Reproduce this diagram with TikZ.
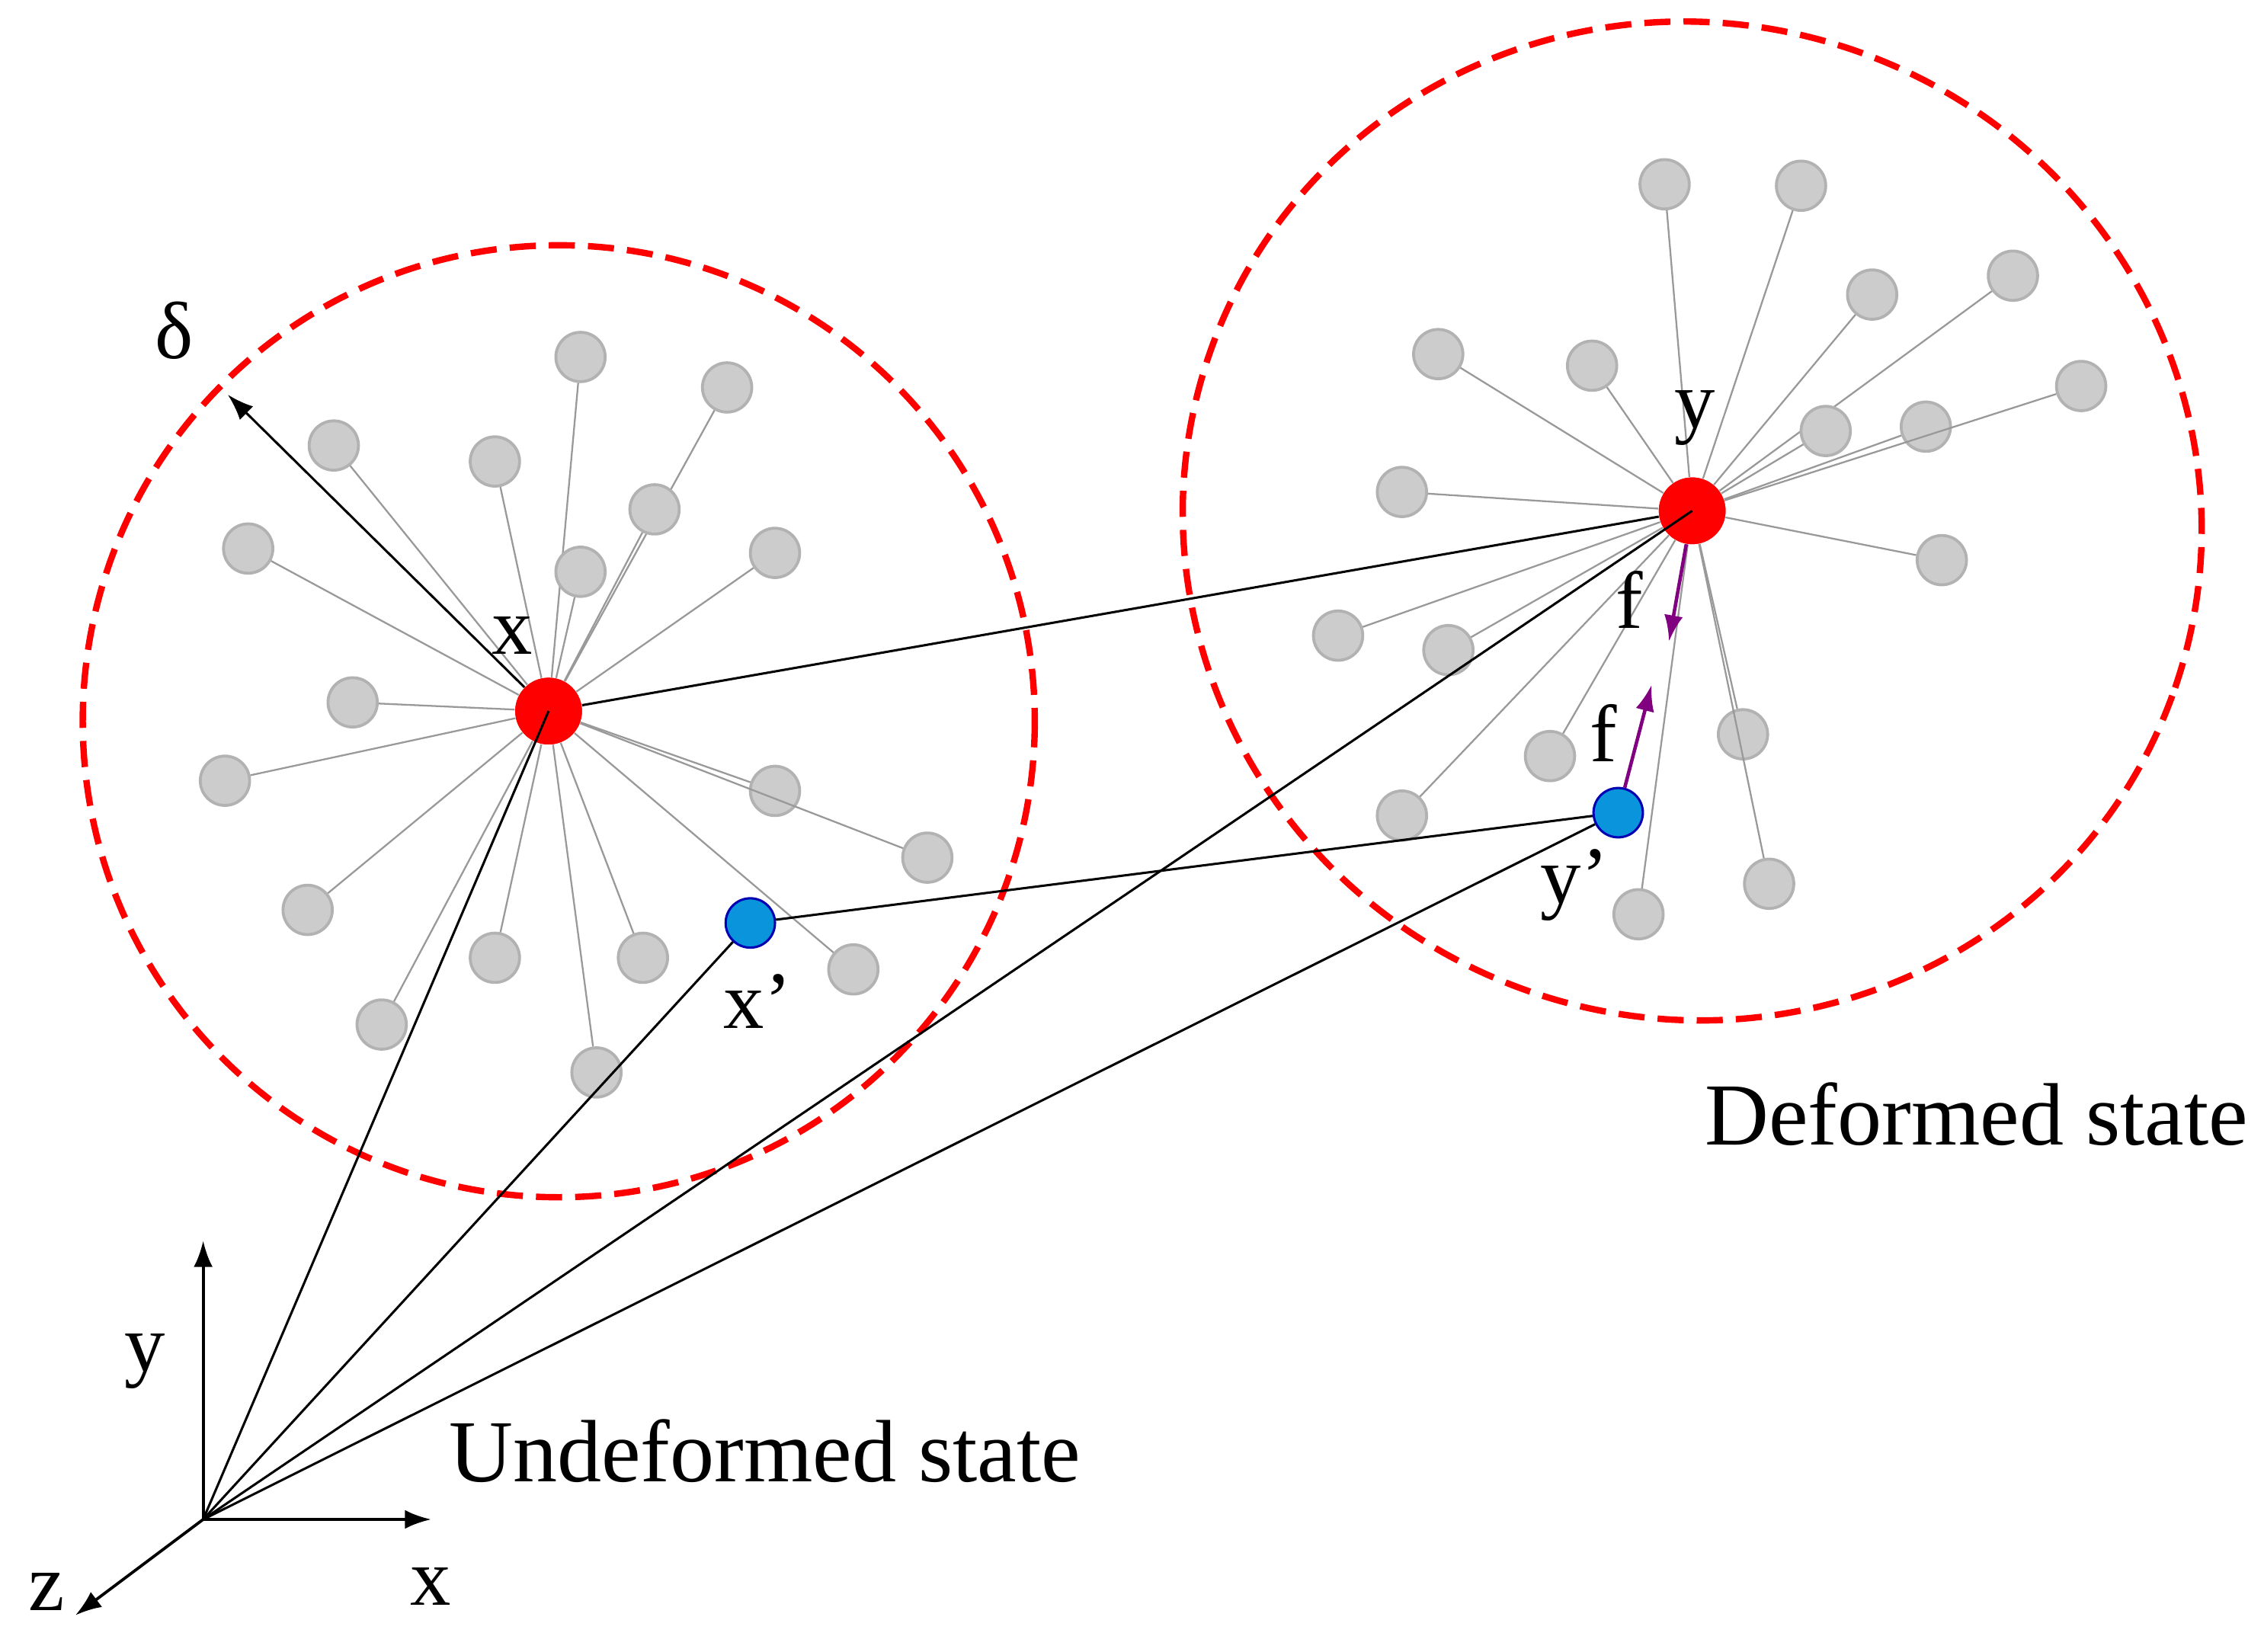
\documentclass[tikz,border=0pt]{standalone}
\usepackage{fontspec}
\setmainfont{Liberation Serif}
\usetikzlibrary{arrows.meta}
\begin{document}
\begin{tikzpicture}[x=0.5pt,y=-0.5pt,
  gn/.style={circle,fill=black!20,draw=black!30,line width=1pt,minimum size=17pt,inner sep=0},
  rn/.style={circle,fill=red,minimum size=23pt,inner sep=0},
  bn/.style={circle,fill=cyan!80!blue,draw=blue!70!black,line width=0.8pt,minimum size=17pt,inner sep=0},
  sp/.style={black!40,line width=0.6pt},
  bl/.style={black,line width=0.8pt},
  ar/.style={-{Latex[length=9pt,width=6.5pt]}},
  lab/.style={font=\fontsize{28}{28}\selectfont,inner sep=0},
  big/.style={font=\fontsize{30.5}{30.5}\selectfont,inner sep=0},
  reddash/.style={red,line width=2.2pt,dash pattern=on 9pt off 4.5pt}]
\useasboundingbox (0,0) rectangle (1560,1138);
\draw[reddash] (385,497) circle[radius=328];
\draw[reddash,rotate around={-20:(1166,359)}] (1166,359) ellipse[x radius=352,y radius=343];
\node[rn] (X) at (378,490) {};
\node[rn] (Y) at (1166,352) {};
\foreach \i/\p in {1/{(400,246)},2/{(501,267)},3/{(230,307)},4/{(341,318)},5/{(451,351)},6/{(171,378)},7/{(400,394)},8/{(534,381)},9/{(243,484)},10/{(155,538)},11/{(534,545)},12/{(639,591)},13/{(212,627)},14/{(341,660)},15/{(443,660)},16/{(588,668)},17/{(263,706)},18/{(411,739)}}{
  \node[gn] (L\i) at \p {};
  \draw[sp] (X) -- (L\i);}
\foreach \i/\p in {1/{(1147,127)},2/{(1241,128)},3/{(1290,203)},4/{(1387,190)},5/{(991,244)},6/{(1097,252)},7/{(1258,297)},8/{(1327,294)},9/{(1434,266)},10/{(966,339)},11/{(1338,386)},12/{(922,438)},13/{(998,448)},14/{(1068,521)},15/{(1201,506)},16/{(966,562)},17/{(1219,609)},18/{(1129,630)}}{
  \node[gn] (R\i) at \p {};
  \draw[sp] (Y) -- (R\i);}
\node[rn] at (378,490) {};
\node[rn] at (1166,352) {};
\node[bn] (XP) at (517,636) {};
\node[bn] (YP) at (1115,560) {};
\coordinate (O) at (140,1047);
\coordinate (D) at (157,272);
\draw[bl] (O) -- (X.center); \draw[bl] (O) -- (Y.center); \draw[bl] (O) -- (XP);
\draw[bl] (O) -- (YP); \draw[bl] (X) -- (Y); \draw[bl] (XP) -- (YP);
\draw[bl,ar] (X) -- (D);
\coordinate (F1) at (1150,442); \coordinate (F2) at (1138,472);
\draw[violet,line width=1.2pt,ar] (Y) -- (F1);
\draw[violet,line width=1.2pt,ar] (YP) -- (F2);
\coordinate (AY) at (140,855); \coordinate (AX) at (297,1047); \coordinate (AZ) at (52,1113);
\draw[bl,ar,line width=1pt] (O) -- (AY);
\draw[bl,ar,line width=1pt] (O) -- (AX);
\draw[bl,ar,line width=1pt] (O) -- (AZ);
\node[lab] at (120,228) {δ};
\node[lab] at (353,438) {x};
\node[lab] at (1168,288) {y};
\node[lab] at (522,690) {x’};
\node[lab] at (1085,610) {y’};
\node[lab] at (1123,413) {f};
\node[lab] at (1105,505) {f};
\node[lab] at (100,938) {y};
\node[lab] at (297,1093) {x};
\node[lab] at (32,1097) {z};
\node[big] at (1362,768) {Deformed state};
\node[big] at (527,1000) {Undeformed state};
\end{tikzpicture}
\end{document}
